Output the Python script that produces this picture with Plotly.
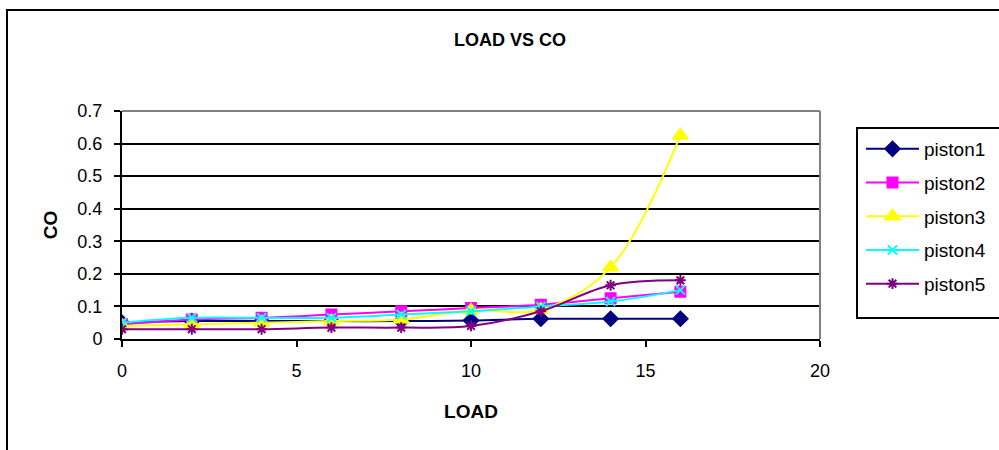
import plotly.graph_objects as go

load = [0, 2, 4, 6, 8, 10, 12, 14, 16]
piston1 = [0.05, 0.055, 0.055, 0.055, 0.055, 0.057, 0.062, 0.062, 0.062]
piston2 = [0.045, 0.06, 0.065, 0.075, 0.085, 0.095, 0.105, 0.125, 0.145]
piston3 = [0.04, 0.045, 0.05, 0.055, 0.06, 0.088, 0.09, 0.22, 0.625]
piston4 = [0.05, 0.065, 0.065, 0.065, 0.075, 0.085, 0.1, 0.115, 0.15]
piston5 = [0.03, 0.03, 0.03, 0.035, 0.035, 0.04, 0.085, 0.165, 0.18]

series = [
    ("piston1", piston1, "#000080", "diamond", 11),
    ("piston2", piston2, "#FF00FF", "square", 10),
    ("piston3", piston3, "#FFFF00", "triangle-up", 13),
    ("piston4", piston4, "#00FFFF", "x-thin", 9),
    ("piston5", piston5, "#800080", "asterisk", 9),
]

FONT = "Liberation Sans, Arial, sans-serif"

fig = go.Figure()
for name, vals, color, sym, size in series:
    fig.add_trace(go.Scatter(
        x=load, y=vals, name=name, mode="lines+markers",
        legendgroup=name,
        line=dict(color=color, width=2, shape="spline", smoothing=1),
        marker=dict(symbol=sym, size=size, color=color,
                    line=dict(color=color, width=2)),
    ))

W, H = 999, 450
L, T = 122, 111
R = W - 820
B = H - 339
pw, ph = W - L - R, H - T - B

def px(x):
    return (x - L) / pw

def py(y):
    return (H - B - y) / ph

fig.update_layout(
    width=W, height=H,
    margin=dict(l=L, r=R, t=T, b=B, autoexpand=False),
    paper_bgcolor="white", plot_bgcolor="white",
    font=dict(family=FONT, size=18, color="black"),
    title=dict(text="<b>LOAD VS CO</b>", x=510 / W, xanchor="center",
               y=1 - 40 / H, yanchor="middle", font=dict(size=18)),
    xaxis=dict(range=[0, 20], dtick=5, showgrid=False, zeroline=False,
               showline=True, linecolor="black", linewidth=2,
               ticks="outside", ticklen=6, tickwidth=1.5, tickcolor="black",
               ticklabelstandoff=8,
               title=dict(text="<b>LOAD</b>", font=dict(size=19), standoff=25)),
    yaxis=dict(range=[0, 0.7], dtick=0.1, showgrid=True, gridcolor="black",
               gridwidth=1.5, zeroline=False,
               showline=True, linecolor="black", linewidth=2,
               ticks="outside", ticklen=6, tickwidth=1.5, tickcolor="black",
               ticklabelstandoff=8,
               title=dict(text="<b>CO</b>", font=dict(size=19), standoff=15)),
    legend=dict(x=px(861), xanchor="left", y=py(130), yanchor="top",
                bgcolor="rgba(0,0,0,0)", borderwidth=0, itemwidth=53,
                tracegroupgap=6, font=dict(size=19)),
    showlegend=True,
    hovermode=False,
    shapes=[
        dict(type="rect", xref="paper", yref="paper",
             x0=px(7), x1=px(1010), y0=py(460), y1=py(10),
             line=dict(color="black", width=2), layer="below"),
        dict(type="line", xref="paper", yref="paper",
             x0=0, x1=1, y0=1, y1=1, line=dict(color="#808080", width=2)),
        dict(type="line", xref="paper", yref="paper",
             x0=1, x1=1, y0=0, y1=1, line=dict(color="#808080", width=2)),
        dict(type="rect", xref="paper", yref="paper",
             x0=px(857), x1=px(1010), y0=py(318), y1=py(128),
             line=dict(color="black", width=2)),
    ],
)

fig.write_html("out.html",
               config={"displayModeBar": False},
               post_script="document.body.style.margin='0px';"
                           "document.body.style.overflow='hidden';")
